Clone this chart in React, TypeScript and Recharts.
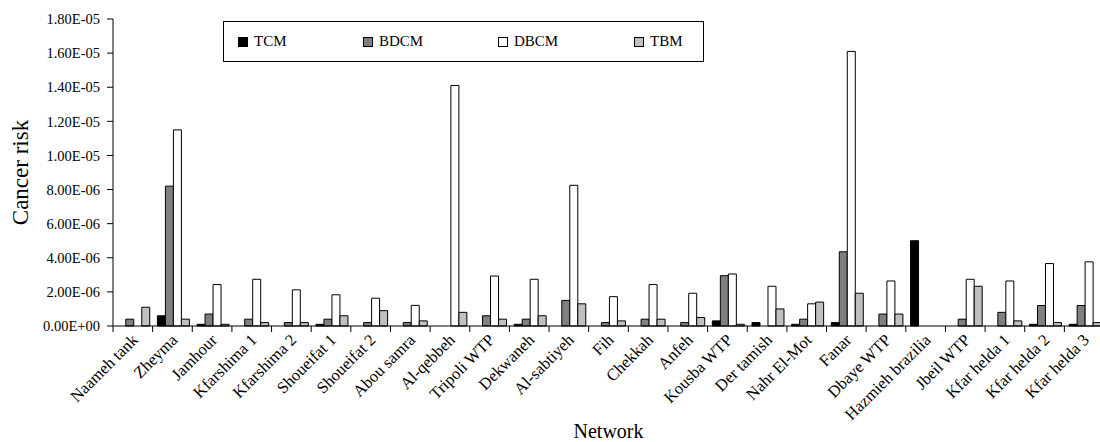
import React from 'react';
import { BarChart, Bar, XAxis, YAxis, Legend } from 'recharts';

const FONT = '"Liberation Serif", "Times New Roman", Times, serif';

const categories = [
  'Naameh tank', 'Zheyma', 'Jamhour', 'Kfarshima 1', 'Kfarshima 2', 'Shoueifat 1', 'Shoueifat 2',
  'Abou samra', 'Al-qebbeh', 'Tripoli WTP', 'Dekwaneh', 'Al-sabtiyeh', 'Fih', 'Chekkah', 'Anfeh',
  'Kousba WTP', 'Der tamish', 'Nahr El-Mot', 'Fanar', 'Dbaye WTP', 'Hazmieh brazilia', 'Jbeil WTP',
  'Kfar helda 1', 'Kfar helda 2', 'Kfar helda 3',
];

const seriesNames = ['TCM', 'BDCM', 'DBCM', 'TBM'];

const tcm = [0, 6e-7, 1e-7, 0, 0, 1e-7, 0, 0, 0, 0, 1e-7, 0, 0, 0, 0, 3e-7, 2e-7, 1e-7, 2e-7, 0, 5e-6, 0, 0, 1e-7, 1e-7];
const bdcm = [4e-7, 8.2e-6, 7e-7, 4e-7, 2e-7, 4e-7, 2e-7, 2e-7, 0, 6e-7, 4e-7, 1.5e-6, 2e-7, 4e-7, 2e-7, 2.95e-6, 0, 4e-7, 4.35e-6, 7e-7, 0, 4e-7, 8e-7, 1.2e-6, 1.2e-6];
const dbcm = [0, 1.15e-5, 2.43e-6, 2.74e-6, 2.12e-6, 1.83e-6, 1.63e-6, 1.21e-6, 1.41e-5, 2.93e-6, 2.74e-6, 8.25e-6, 1.72e-6, 2.43e-6, 1.92e-6, 3.05e-6, 2.33e-6, 1.3e-6, 1.61e-5, 2.64e-6, 0, 2.74e-6, 2.64e-6, 3.66e-6, 3.76e-6];
const tbm = [1.1e-6, 4e-7, 1e-7, 2e-7, 2e-7, 6e-7, 9e-7, 3e-7, 8e-7, 4e-7, 6e-7, 1.3e-6, 3e-7, 4e-7, 5e-7, 1e-7, 1e-6, 1.4e-6, 1.92e-6, 7e-7, 0, 2.33e-6, 3e-7, 2e-7, 2e-7];

const yTicks = [0, 2e-6, 4e-6, 6e-6, 8e-6, 1e-5, 1.2e-5, 1.4e-5, 1.6e-5, 1.8e-5];

const data = categories.map((name, i) => ({
  name,
  TCM: tcm[i],
  BDCM: bdcm[i],
  DBCM: dbcm[i],
  TBM: tbm[i],
}));

const CHART_W = 1110;
const CHART_H = 442;
const Y_AXIS_W = 113;
const MARGIN = { top: 19, right: 6, bottom: 0, left: 0 };
const PLOT_W = CHART_W - Y_AXIS_W - MARGIN.left - MARGIN.right;
const HALF_BAND = PLOT_W / categories.length / 2;

function fmtSci(v: number): string {
  if (v === 0) return '0.00E+00';
  const e = Math.floor(Math.log10(Math.abs(v)) + 1e-9);
  const m = v / Math.pow(10, e);
  const sign = e < 0 ? '-' : '+';
  const abs = Math.abs(e);
  return `${m.toFixed(2)}E${sign}${abs < 10 ? '0' + abs : abs}`;
}

const XTick = (props: any) => {
  const { x, y, payload, index } = props;
  const last = index === categories.length - 1;
  const ax = x + 6;
  const ay = y + 15;
  return (
    <g>
      <line x1={x - HALF_BAND} x2={x - HALF_BAND} y1={y} y2={y + 6} stroke="#000" strokeWidth={1} />
      {last && <line x1={x + HALF_BAND} x2={x + HALF_BAND} y1={y} y2={y + 6} stroke="#000" strokeWidth={1} />}
      <text
        x={ax}
        y={ay}
        transform={`rotate(-45, ${ax}, ${ay})`}
        textAnchor="end"
        style={{ fontSize: '16.5px', fontFamily: FONT }}
        fill="#000"
      >
        {payload.value}
      </text>
    </g>
  );
};

const YTick = (props: any) => {
  const { x, y, payload } = props;
  return (
    <text
      x={x}
      y={y}
      dy="0.36em"
      textAnchor="end"
      style={{ fontSize: '14.5px', fontFamily: FONT }}
      fill="#000"
    >
      {fmtSci(payload.value)}
    </text>
  );
};

const legendLefts = [14, 139, 274, 410];

const LegendBox = (props: any) => {
  const { payload = [] } = props;
  const ordered = [...payload].sort(
    (a: any, b: any) => seriesNames.indexOf(a.value) - seriesNames.indexOf(b.value),
  );
  return (
    <div
      style={{
        position: 'relative',
        width: 481,
        height: 41,
        border: '1px solid #000',
        boxSizing: 'border-box',
        background: '#fff',
        fontFamily: FONT,
        fontSize: 15,
        color: '#000',
      }}
    >
      {ordered.map((p: any, i: number) => (
        <div
          key={p.value}
          style={{
            position: 'absolute',
            left: legendLefts[i],
            top: 0,
            height: 39,
            display: 'flex',
            alignItems: 'center',
            lineHeight: '15px',
          }}
        >
          <span
            style={{
              display: 'inline-block',
              width: 10,
              height: 10,
              boxSizing: 'border-box',
              background: p.color,
              border: '1px solid #000',
              marginRight: 6,
            }}
          />
          <span>{p.value}</span>
        </div>
      ))}
    </div>
  );
};

export default function App() {
  return (
    <div style={{ position: 'absolute', left: 0, top: 0, width: CHART_W, height: CHART_H, background: '#fff' }}>
      <BarChart
        width={CHART_W}
        height={CHART_H}
        data={data}
        margin={MARGIN}
        barCategoryGap="12%"
        barGap={0}
      >
        <XAxis
          dataKey="name"
          interval={0}
          tickSize={0}
          tickMargin={0}
          tickLine={false}
          axisLine={{ stroke: '#000', strokeWidth: 1 }}
          height={CHART_H - MARGIN.top - 307}
          tick={<XTick />}
          label={{ value: 'Network', position: 'insideBottom', offset: 4, fontSize: 20, fontFamily: FONT, fill: '#000' }}
        />
        <YAxis
          width={Y_AXIS_W}
          domain={[0, 1.8e-5]}
          ticks={yTicks}
          interval={0}
          tickSize={6}
          tickMargin={7}
          tickLine={{ stroke: '#000', strokeWidth: 1 }}
          axisLine={{ stroke: '#000', strokeWidth: 1 }}
          tick={<YTick />}
          label={{
            value: 'Cancer risk',
            angle: -90,
            position: 'insideLeft',
            offset: 20,
            fontSize: 23,
            fontFamily: FONT,
            fill: '#000',
            style: { textAnchor: 'middle' },
          }}
        />
        <Legend
          layout="horizontal"
          verticalAlign="middle"
          align="center"
          content={<LegendBox />}
          wrapperStyle={{ position: 'absolute', left: 223, top: 21, width: 481, height: 41 }}
        />
        <Bar dataKey="TCM" name="TCM" fill="#000000" stroke="#000" strokeWidth={1} isAnimationActive={false} />
        <Bar dataKey="BDCM" name="BDCM" fill="#808080" stroke="#000" strokeWidth={1} isAnimationActive={false} />
        <Bar dataKey="DBCM" name="DBCM" fill="#ffffff" stroke="#000" strokeWidth={1} isAnimationActive={false} />
        <Bar dataKey="TBM" name="TBM" fill="#c0c0c0" stroke="#000" strokeWidth={1} isAnimationActive={false} />
      </BarChart>
    </div>
  );
}
